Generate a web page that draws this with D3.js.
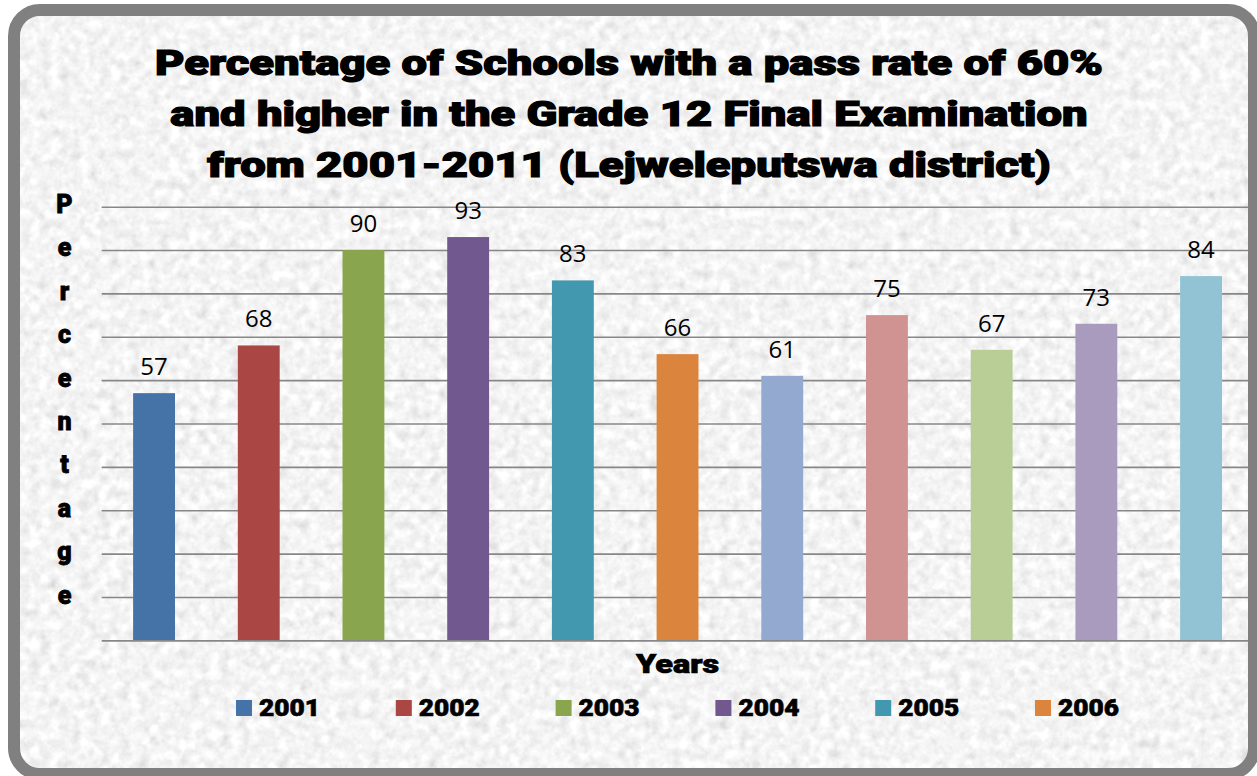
<!DOCTYPE html>
<html>
<head>
<meta charset="utf-8">
<script src="https://cdn.jsdelivr.net/npm/d3@7"></script>
<style>
  html, body { margin: 0; padding: 0; background: #ffffff; }
  svg { display: block; }
</style>
</head>
<body>
<svg id="chart" width="1257" height="776"></svg>
<script>
// Chart data
const years = ["2001", "2002", "2003", "2004", "2005", "2006", "2007", "2008", "2009", "2010", "2011"];
const percentages = [57, 68, 90, 93, 83, 66, 61, 75, 67, 73, 84];
const barColors = ["#4572A7", "#AA4643", "#89A54E", "#71588F", "#4198AF", "#DB843D",
                   "#93A9CF", "#D19392", "#B9CD96", "#A99BBD", "#92C3D5"];
const legendYears = years.slice(0, 6);
const titleLines = [
  "Percentage of Schools with a pass rate of 60%",
  "and higher in the Grade 12 Final Examination",
  "from 2001-2011 (Lejweleputswa district)"
];
const yAxisTitle = "Percentage";
const xAxisTitle = "Years";
const yTicks = d3.range(0, 101, 10);

const W = 1257, H = 776;
const heavy = "'Arial Black', 'Roboto', 'Lato', 'Inter', 'Liberation Sans', sans-serif";
const svg = d3.select("#chart");
const defs = svg.append("defs");

// Frame geometry
const frame = { x: 14, y: 10, w: 1240, h: 764, r: 26, stroke: 12 };

// Paper-grain texture
const grain = defs.append("filter").attr("id", "grain")
  .attr("filterUnits", "userSpaceOnUse")
  .attr("x", 0).attr("y", 0).attr("width", W).attr("height", H);
grain.append("feTurbulence")
  .attr("type", "fractalNoise").attr("baseFrequency", "0.1")
  .attr("numOctaves", 3).attr("seed", 7).attr("result", "noise");
grain.append("feColorMatrix")
  .attr("in", "noise").attr("type", "matrix")
  .attr("values", "0.33 0.33 0.33 0 0  0.33 0.33 0.33 0 0  0.33 0.33 0.33 0 0  0 0 0 0 1")
  .attr("result", "grey");
const ct = grain.append("feComponentTransfer").attr("in", "grey").attr("result", "tone");
["feFuncR", "feFuncG", "feFuncB"].forEach(f =>
  ct.append(f).attr("type", "linear").attr("slope", 0.72).attr("intercept", 0.55));
grain.append("feGaussianBlur").attr("in", "tone").attr("stdDeviation", 0.35);

defs.append("clipPath").attr("id", "inner")
  .append("rect")
  .attr("x", frame.x).attr("y", frame.y)
  .attr("width", frame.w).attr("height", frame.h)
  .attr("rx", frame.r).attr("ry", frame.r);

const inner = svg.append("g").attr("clip-path", "url(#inner)");
inner.append("rect")
  .attr("x", 0).attr("y", 0).attr("width", W).attr("height", H)
  .attr("fill", "#e6e6e6")
  .attr("filter", "url(#grain)");

// Scales
const plot = { left: 101.7, right: 1253.4, top: 206.7, bottom: 640.3 };
const x = d3.scaleBand().domain(years)
  .range([plot.left, plot.right])
  .paddingInner(0.6).paddingOuter(0.3);
const y = d3.scaleLinear().domain([0, 100]).range([plot.bottom, plot.top]);

// Horizontal gridlines
const grid = d3.axisLeft(y).tickValues(yTicks)
  .tickSize(-(plot.right - plot.left)).tickFormat("");
const gGrid = inner.append("g")
  .attr("transform", `translate(${plot.left},0)`)
  .call(grid);
gGrid.select(".domain").remove();
gGrid.selectAll(".tick line").attr("stroke", "#878787").attr("stroke-width", 1.6);

// Bars
inner.append("g").selectAll("rect")
  .data(years)
  .join("rect")
  .attr("x", d => x(d))
  .attr("y", (d, i) => y(percentages[i]))
  .attr("width", x.bandwidth())
  .attr("height", (d, i) => y(0) - y(percentages[i]))
  .attr("fill", (d, i) => barColors[i]);

// Baseline axis
const gX = inner.append("g")
  .attr("transform", `translate(0,${plot.bottom})`)
  .call(d3.axisBottom(x).tickSize(0).tickFormat(""));
gX.select(".domain").attr("stroke", "#878787").attr("stroke-width", 1.6);

// Value labels
inner.append("g").selectAll("text")
  .data(years)
  .join("text")
  .attr("x", d => x(d) + x.bandwidth() / 2)
  .attr("y", (d, i) => y(percentages[i]) - 18)
  .attr("text-anchor", "middle")
  .attr("font-family", "'Open Sans', 'Noto Sans', sans-serif")
  .attr("font-size", 24)
  .attr("fill", "#000")
  .text((d, i) => percentages[i]);

// Title: wide heavy lettering, stretched so the first line spans 948px
const titleG = svg.append("g");
const titleBase = [75, 126, 177];
const titleSize = 35;
const tLines = titleG.selectAll("text")
  .data(titleLines)
  .join("text")
  .attr("x", 629)
  .attr("y", (d, i) => titleBase[i])
  .attr("text-anchor", "middle")
  .attr("font-family", heavy)
  .attr("font-weight", 900)
  .attr("font-size", titleSize)
  .attr("fill", "#000")
  .attr("stroke", "#000").attr("stroke-width", 1.2)
  .text(d => d);
const naturals = tLines.nodes().map(n => n.getComputedTextLength());
const stretch = 948 / naturals[0];
tLines.attr("textLength", (d, i) => naturals[i] * stretch)
  .attr("lengthAdjust", "spacingAndGlyphs");

// Vertical axis title, one letter per row
svg.append("g").selectAll("text")
  .data(yAxisTitle.split(""))
  .join("text")
  .attr("x", 64.5)
  .attr("y", (d, i) => 213 + i * 43.4)
  .attr("text-anchor", "middle")
  .attr("font-family", heavy)
  .attr("font-weight", 900)
  .attr("font-size", 25)
  .attr("fill", "#000")
  .attr("stroke", "#000").attr("stroke-width", 0.8)
  .text(d => d);

// Horizontal axis title
svg.append("text")
  .attr("x", 677.5).attr("y", 673)
  .attr("text-anchor", "middle")
  .attr("font-family", heavy)
  .attr("font-weight", 900)
  .attr("font-size", 25)
  .attr("fill", "#000")
  .attr("stroke", "#000").attr("stroke-width", 0.7)
  .attr("textLength", 83).attr("lengthAdjust", "spacingAndGlyphs")
  .text(xAxisTitle);

// Legend
const legend = svg.append("g").selectAll("g")
  .data(legendYears)
  .join("g")
  .attr("transform", (d, i) => `translate(${236 + i * 159.8},700)`);
legend.append("rect")
  .attr("width", 16).attr("height", 16)
  .attr("fill", (d, i) => barColors[i]);
legend.append("text")
  .attr("x", 23).attr("y", 15.5)
  .attr("font-family", heavy)
  .attr("font-weight", 900)
  .attr("font-size", 23)
  .attr("fill", "#000")
  .attr("stroke", "#000").attr("stroke-width", 0.6)
  .attr("textLength", 61).attr("lengthAdjust", "spacingAndGlyphs")
  .text(d => d);

// Rounded frame
svg.append("rect")
  .attr("x", frame.x).attr("y", frame.y)
  .attr("width", frame.w).attr("height", frame.h)
  .attr("rx", frame.r).attr("ry", frame.r)
  .attr("fill", "none")
  .attr("stroke", "#808080")
  .attr("stroke-width", frame.stroke);
</script>
</body>
</html>
